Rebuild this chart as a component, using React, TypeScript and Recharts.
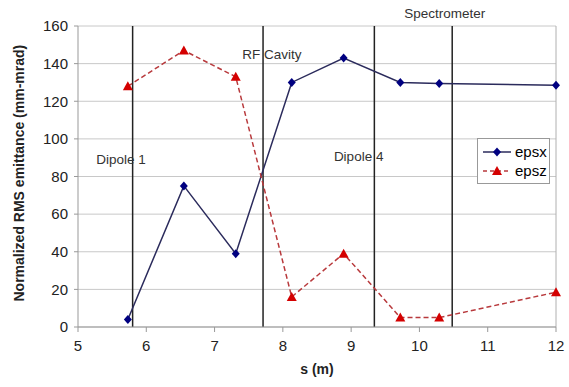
import React from 'react';
import {
  LineChart,
  Line,
  XAxis,
  YAxis,
  CartesianGrid,
  Legend,
  ReferenceLine,
  ReferenceDot
} from 'recharts';

const sValues = [5.73, 6.55, 7.31, 8.13, 8.89, 9.72, 10.29, 12];
const epsx = [4, 75, 39, 130, 143, 130, 129.5, 128.5];
const epsz = [128, 147, 133, 16, 39, 5, 5, 18.5];
const xTicks = [5, 6, 7, 8, 9, 10, 11, 12];
const yTicks = [0, 20, 40, 60, 80, 100, 120, 140, 160];
const dividers = [5.8, 7.71, 9.34, 10.48];
const regionNames = ['Dipole 1', 'RF Cavity', 'Dipole 4', 'Spectrometer'];
const regionS = [5.63, 7.84, 9.11, 10.37];
const regionY = [89, 145, 91, 167];

const data = sValues.map((s, i) => ({ s, epsx: epsx[i], epsz: epsz[i] }));

const FONT = '"Liberation Sans", Arial, sans-serif';
const BLUE = '#000080';
const BLUE_LINE = '#2b2b5c';
const RED = '#d40000';
const RED_LINE = '#b8393c';

const Diamond = (props: any) => {
  const { cx, cy, index } = props;
  if (cx == null || cy == null) return <g key={index} />;
  return (
    <polygon
      key={index}
      points={`${cx},${cy - 4.5} ${cx + 4},${cy} ${cx},${cy + 4.5} ${cx - 4},${cy}`}
      fill={BLUE}
    />
  );
};

const Triangle = (props: any) => {
  const { cx, cy, index } = props;
  if (cx == null || cy == null) return <g key={index} />;
  return (
    <polygon
      key={index}
      points={`${cx},${cy - 5} ${cx + 5},${cy + 4} ${cx - 5},${cy + 4}`}
      fill={RED}
    />
  );
};

const LegendBox = () => (
  <div
    style={{
      border: '1px solid #999',
      background: '#fff',
      width: 73,
      padding: '3px 0 3px 5px',
      fontFamily: FONT,
      fontSize: 15,
      lineHeight: '19px',
      boxSizing: 'border-box'
    }}
  >
    <div style={{ display: 'flex', alignItems: 'center' }}>
      <svg width={28} height={12}>
        <line x1={0} y1={6} x2={28} y2={6} stroke={BLUE_LINE} strokeWidth={1.5} />
        <polygon points="14,1.5 18,6 14,10.5 10,6" fill={BLUE} />
      </svg>
      <span style={{ marginLeft: 4 }}>epsx</span>
    </div>
    <div style={{ display: 'flex', alignItems: 'center' }}>
      <svg width={28} height={12}>
        <line x1={0} y1={6} x2={28} y2={6} stroke={RED_LINE} strokeWidth={1.5} strokeDasharray="4 3" />
        <polygon points="14,1 19,10 9,10" fill={RED} />
      </svg>
      <span style={{ marginLeft: 4 }}>epsz</span>
    </div>
  </div>
);

export default function App() {
  return (
    <div style={{ position: 'absolute', left: 0, top: 0, background: '#fff' }}>
      <LineChart
        width={569}
        height={387}
        data={data}
        margin={{ top: 26, right: 13, left: 0, bottom: 30 }}
        style={{ fontFamily: FONT }}
      >
        <CartesianGrid vertical={false} stroke="#c8c8c8" />
        <ReferenceLine x={12} stroke="#b0b0b0" />
        <XAxis
          dataKey="s"
          type="number"
          domain={[5, 12]}
          ticks={xTicks}
          stroke="#999"
          tick={{ fill: '#222', fontSize: 15 }}
          tickSize={5}
          tickMargin={8}
          height={30}
          label={{
            value: 's (m)',
            position: 'insideBottom',
            offset: -17,
            style: { fontWeight: 'bold', fontSize: 14, fill: '#222' }
          }}
        />
        <YAxis
          type="number"
          domain={[0, 160]}
          ticks={yTicks}
          width={78}
          stroke="#999"
          tick={{ fill: '#222', fontSize: 15 }}
          tickSize={4}
          tickMargin={6}
          label={{
            value: 'Normalized RMS emittance (mm-mrad)',
            angle: -90,
            position: 'insideLeft',
            offset: 19,
            dy: 125,
            style: { fontWeight: 'bold', fontSize: 14, fill: '#222' }
          }}
        />
        {dividers.map((x) => (
          <ReferenceLine key={x} x={x} stroke="#222" strokeWidth={1.5} />
        ))}
        {regionNames.map((name, i) => (
          <ReferenceDot
            key={name}
            x={regionS[i]}
            y={regionY[i]}
            r={0}
            ifOverflow="visible"
            label={{ value: name, position: 'center', fontSize: 13.5, fill: '#333' }}
          />
        ))}
        <Legend
          layout="vertical"
          align="center"
          verticalAlign="middle"
          content={<LegendBox />}
          wrapperStyle={{ left: 477, top: 138, width: 74 }}
        />
        <Line
          dataKey="epsx"
          stroke={BLUE_LINE}
          strokeWidth={1.5}
          dot={<Diamond />}
          isAnimationActive={false}
        />
        <Line
          dataKey="epsz"
          stroke={RED_LINE}
          strokeWidth={1.5}
          strokeDasharray="5 3"
          dot={<Triangle />}
          isAnimationActive={false}
        />
      </LineChart>
    </div>
  );
}
